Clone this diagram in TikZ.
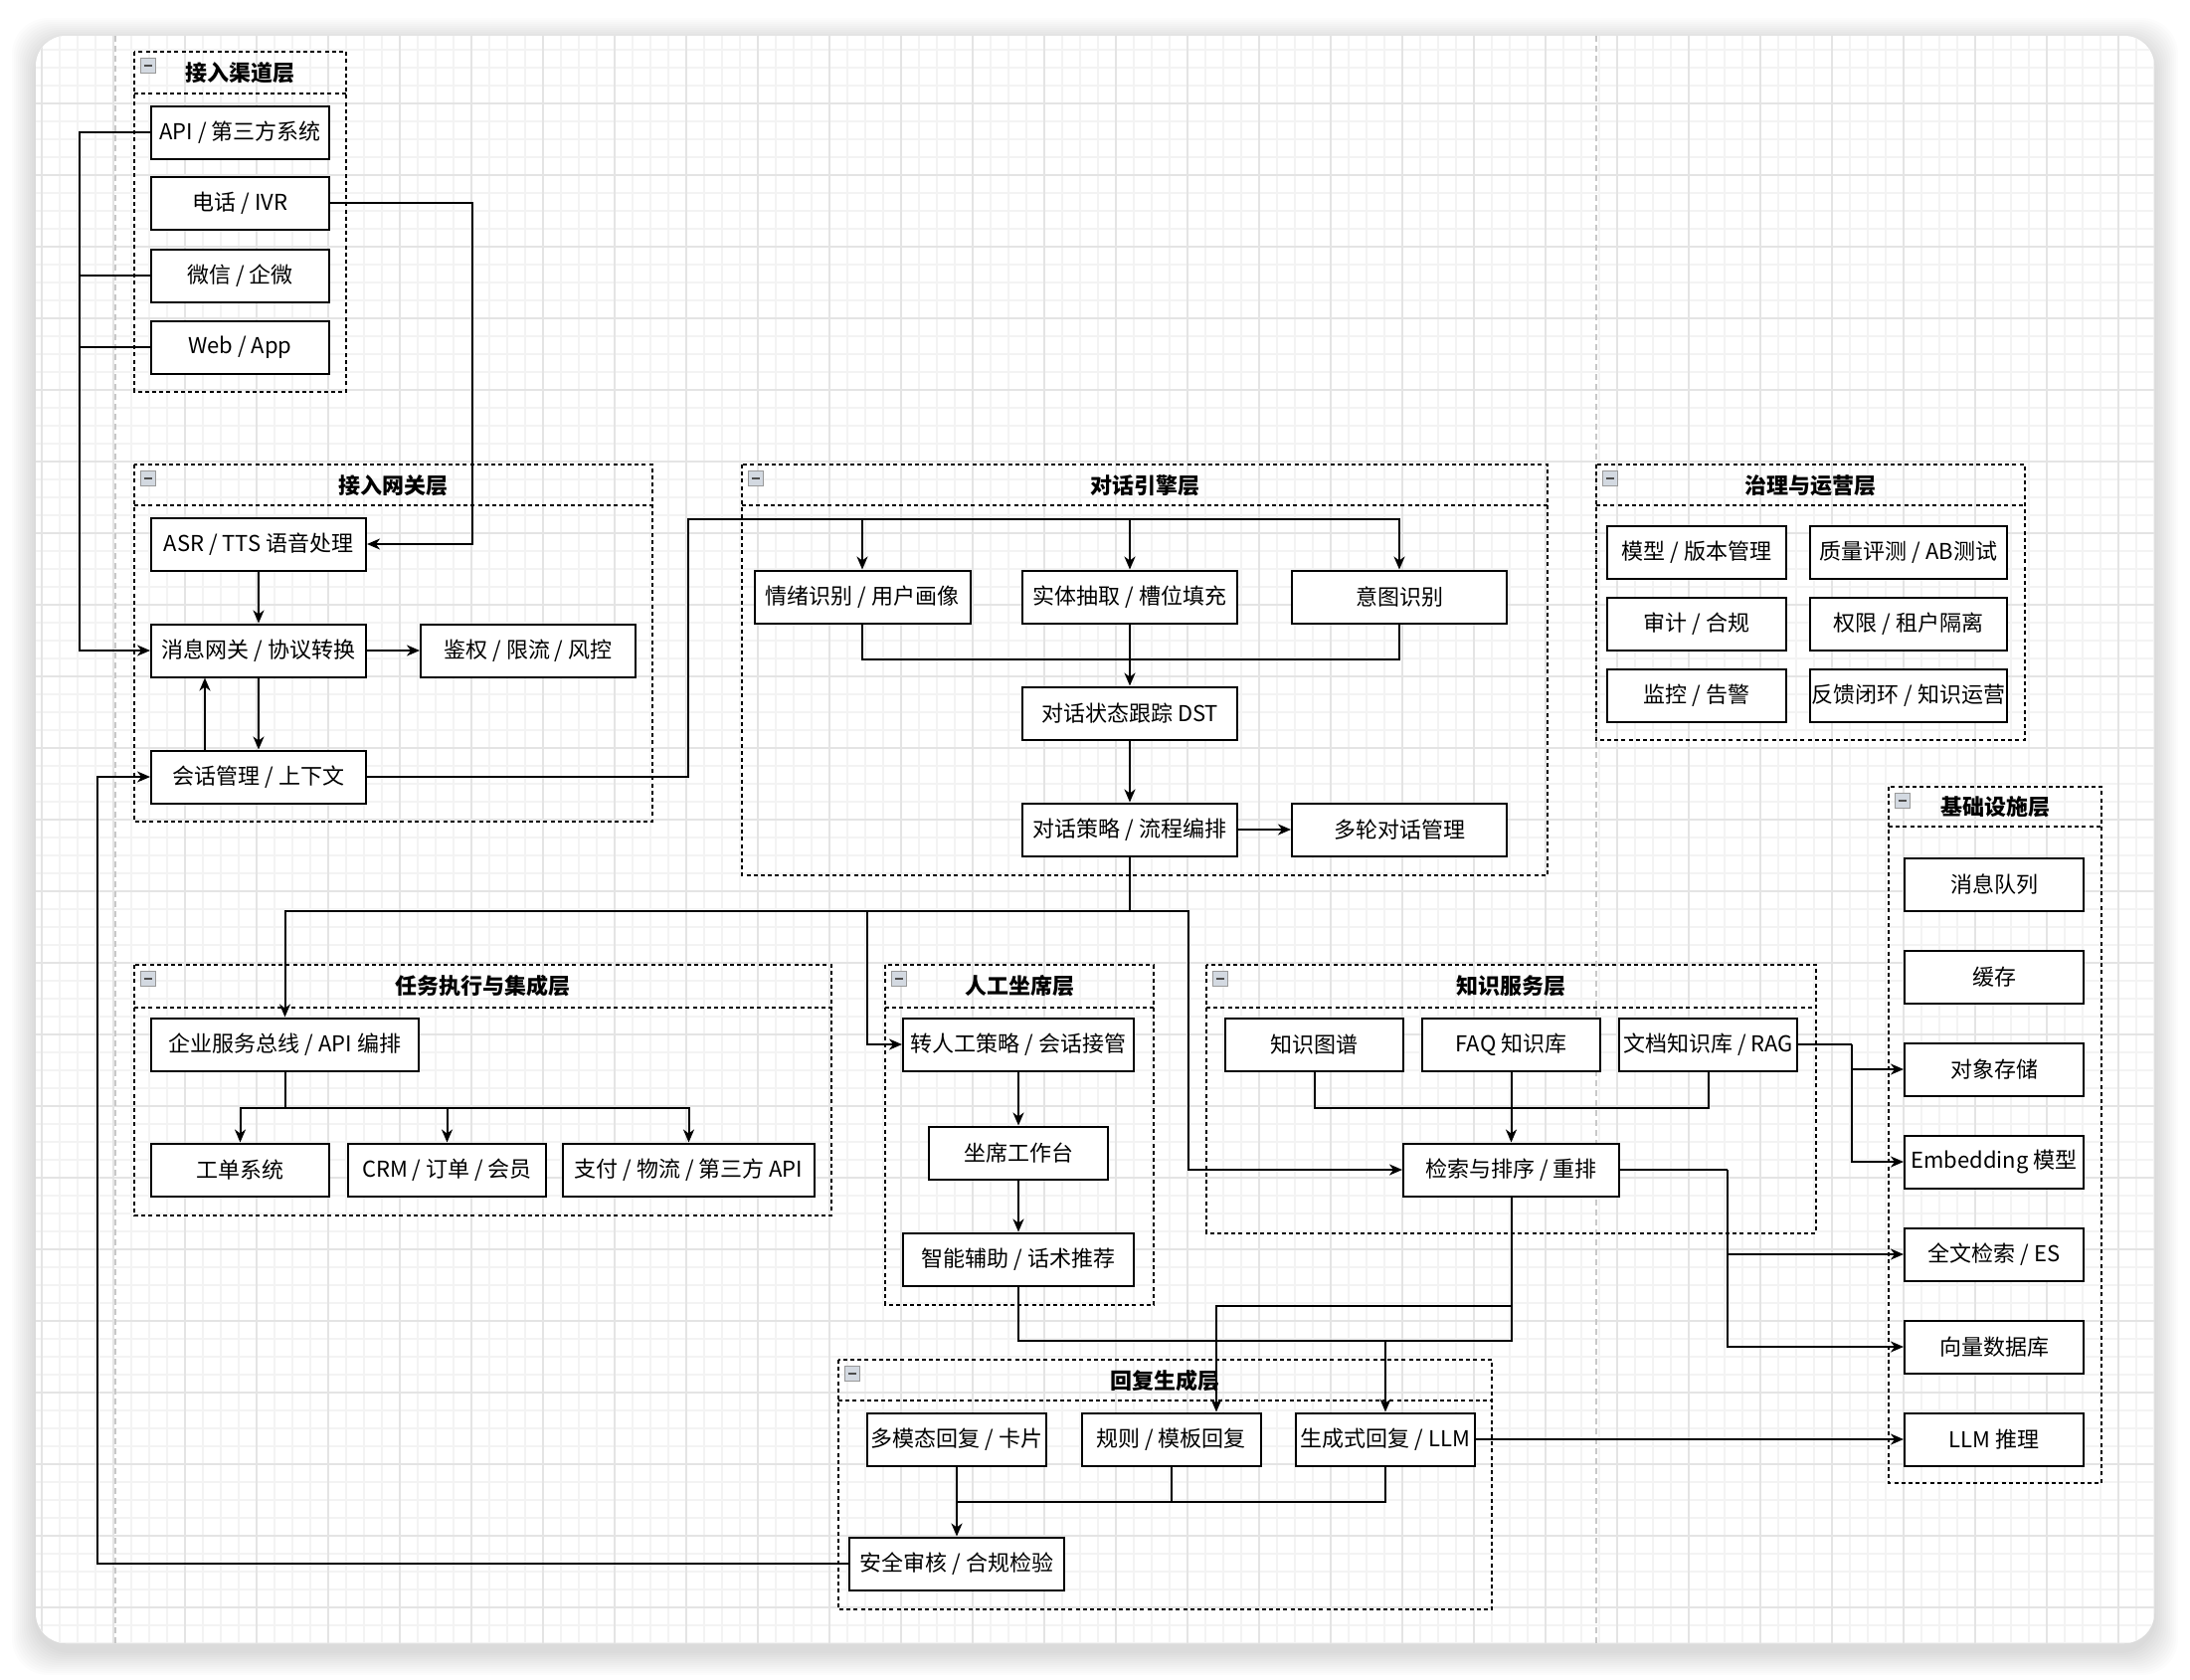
\documentclass[tikz,border=0pt]{standalone}
\usepackage{fontspec}
\setmainfont{Noto Sans CJK SC}
\usetikzlibrary{shapes,arrows,arrows.meta}
\usetikzlibrary{calc}
\usetikzlibrary{positioning}
\definecolor{gridminor}{HTML}{F3F3F3}
\definecolor{gridmajor}{HTML}{E4E4E4}
\definecolor{pageline}{HTML}{C8C8C8}
\definecolor{iconfill}{HTML}{D3D9E1}
\tikzstyle{block} = [draw, line width=1pt, fill=white, rectangle,
    minimum height=26.5pt, minimum width=89.5pt, inner sep=1pt,
    font=\fontsize{11}{12}\selectfont]
\tikzstyle{layerbox} = [draw, line width=0.9pt, dash pattern=on 2pt off 1.6pt]
\tikzstyle{layertitle} = [inner sep=0pt, font=\fontsize{11}{12}\selectfont\bfseries]
\tikzstyle{icon} = [draw=gray!80, fill=iconfill, rectangle, minimum size=7.5pt, inner sep=0pt,
    path picture={\draw[line width=1.2pt, black!70]
      ([xshift=-2.2pt]path picture bounding box.center) -- ([xshift=2.2pt]path picture bounding box.center);}]
\tikzstyle{wire} = [line width=1pt]

\begin{document}
\begin{tikzpicture}[x=0.5pt, y=-0.5pt, >={Stealth[length=6.5pt, width=5.5pt, inset=2pt]}]
  \useasboundingbox (0,0) rectangle (2202,1688);
  \fill[white] (0,0) rectangle (2202,1688);
  % card with soft shadow and grid
  \foreach \s in {1,...,12}
    \fill[black, opacity=0.012, rounded corners=18pt] (36-2*\s,36-2*\s+6) rectangle (2166+2*\s,1652+2*\s+8);
  \fill[white, rounded corners=15pt] (36,36) rectangle (2166,1652);
  \begin{scope}
    \clip[rounded corners=15pt] (36,36) rectangle (2166,1652);
    \foreach \gx in {42,60,...,2166} \draw[gridminor, line width=0.7pt] (\gx,36) -- (\gx,1652);
    \foreach \gy in {50,68,...,1652} \draw[gridminor, line width=0.7pt] (36,\gy) -- (2166,\gy);
    \foreach \gx in {42,114,...,2166} \draw[gridmajor, line width=0.7pt] (\gx,36) -- (\gx,1652);
    \foreach \gy in {104,176,...,1652} \draw[gridmajor, line width=0.7pt] (36,\gy) -- (2166,\gy);
  \end{scope}
  \draw[pageline, line width=0.6pt, dash pattern=on 3pt off 2pt] (116,36) -- (116,1652);
  \draw[pageline, line width=0.6pt, dash pattern=on 3pt off 2pt] (1605,36) -- (1605,1652);

  % layers
  \draw[layerbox] (135,52) rectangle (348,394);
  \draw[layerbox] (135,94) -- (348,94);
  \node[icon] (iconCh) at (149,66) {};
  \node[layertitle] (titleCh) at (241.5,73) {接入渠道层};

  \draw[layerbox] (135,467) rectangle (656,826);
  \draw[layerbox] (135,508) -- (656,508);
  \node[icon] (iconGw) at (149,481) {};
  \node[layertitle] (titleGw) at (395.5,488) {接入网关层};

  \draw[layerbox] (746,467) rectangle (1556,880);
  \draw[layerbox] (746,508) -- (1556,508);
  \node[icon] (iconDe) at (760,481) {};
  \node[layertitle] (titleDe) at (1151,488) {对话引擎层};

  \draw[layerbox] (1605,467) rectangle (2036,744);
  \draw[layerbox] (1605,508) -- (2036,508);
  \node[icon] (iconGov) at (1619,481) {};
  \node[layertitle] (titleGov) at (1820.5,488) {治理与运营层};

  \draw[layerbox] (135,970) rectangle (836,1222);
  \draw[layerbox] (135,1013) -- (836,1013);
  \node[icon] (iconTk) at (149,984) {};
  \node[layertitle] (titleTk) at (485.5,991) {任务执行与集成层};

  \draw[layerbox] (890,970) rectangle (1160,1312);
  \draw[layerbox] (890,1013) -- (1160,1013);
  \node[icon] (iconAg) at (904,984) {};
  \node[layertitle] (titleAg) at (1025,991) {人工坐席层};

  \draw[layerbox] (1213,970) rectangle (1826,1240);
  \draw[layerbox] (1213,1013) -- (1826,1013);
  \node[icon] (iconKg) at (1227,984) {};
  \node[layertitle] (titleKg) at (1519.5,991) {知识服务层};

  \draw[layerbox] (843,1367) rectangle (1500,1618);
  \draw[layerbox] (843,1408) -- (1500,1408);
  \node[icon] (iconRp) at (857,1381) {};
  \node[layertitle] (titleRp) at (1171.5,1388) {回复生成层};

  \draw[layerbox] (1899,791) rectangle (2113,1491);
  \draw[layerbox] (1899,831) -- (2113,831);
  \node[icon] (iconIn) at (1913,805) {};
  \node[layertitle] (titleIn) at (2006,811) {基础设施层};

  % boxes
  \node[block] (chApi) at (241.5,133) {API / 第三方系统};
  \node[block] (chTel) at (241.5,204) {电话 / IVR};
  \node[block] (chWx) at (241.5,277) {微信 / 企微};
  \node[block] (chWeb) at (241.5,349) {Web / App};

  \node[block, minimum width=108pt] (gwAsr) at (260,547) {ASR / TTS 语音处理};
  \node[block, minimum width=108pt] (gwMsg) at (260,654) {消息网关 / 协议转换};
  \node[block, minimum width=108pt] (gwAuth) at (531,654) {鉴权 / 限流 / 风控};
  \node[block, minimum width=108pt] (gwSess) at (260,781) {会话管理 / 上下文};

  \node[block, minimum width=108.5pt] (deEmo) at (867,600) {情绪识别 / 用户画像};
  \node[block, minimum width=108pt] (deEnt) at (1136,600) {实体抽取 / 槽位填充};
  \node[block, minimum width=108pt] (deInt) at (1407,600) {意图识别};
  \node[block, minimum width=108pt] (deDst) at (1136,717) {对话状态跟踪 DST};
  \node[block, minimum width=108pt] (dePol) at (1136,834) {对话策略 / 流程编排};
  \node[block, minimum width=108pt] (deMulti) at (1407,834) {多轮对话管理};

  \node[block, minimum width=90pt] (govModel) at (1706,555) {模型 / 版本管理};
  \node[block, minimum width=99pt] (govQa) at (1919,555) {质量评测 / AB测试};
  \node[block, minimum width=90pt] (govAudit) at (1706,627) {审计 / 合规};
  \node[block, minimum width=99pt] (govAuth) at (1919,627) {权限 / 租户隔离};
  \node[block, minimum width=90pt] (govMon) at (1706,699) {监控 / 告警};
  \node[block, minimum width=99pt] (govLoop) at (1919,699) {反馈闭环 / 知识运营};

  \node[block, minimum width=134.5pt] (tkEsb) at (286.5,1050) {企业服务总线 / API 编排};
  \node[block] (tkTicket) at (241.5,1176) {工单系统};
  \node[block, minimum width=99.5pt] (tkCrm) at (449.5,1176) {CRM / 订单 / 会员};
  \node[block, minimum width=126.5pt] (tkPay) at (692.5,1176) {支付 / 物流 / 第三方 API};

  \node[block, minimum width=116pt] (agHandoff) at (1024,1050) {转人工策略 / 会话接管};
  \node[block, minimum width=90pt] (agDesk) at (1024,1159) {坐席工作台};
  \node[block, minimum width=116pt] (agAssist) at (1024,1266) {智能辅助 / 话术推荐};

  \node[block] (kgGraph) at (1321.5,1050) {知识图谱};
  \node[block] (kgFaq) at (1519.5,1050) {FAQ 知识库};
  \node[block] (kgDoc) at (1717.5,1050) {文档知识库 / RAG};
  \node[block, minimum width=108.5pt] (kgSearch) at (1519.5,1176) {检索与排序 / 重排};

  \node[block, minimum width=90pt] (rpMulti) at (962,1447) {多模态回复 / 卡片};
  \node[block, minimum width=90pt] (rpRule) at (1177.5,1447) {规则 / 模板回复};
  \node[block, minimum width=90pt] (rpGen) at (1393,1447) {生成式回复 / LLM};
  \node[block, minimum width=108pt] (rpSafe) at (962,1572) {安全审核 / 合规检验};

  \node[block, minimum width=90pt] (inMq) at (2005,889) {消息队列};
  \node[block, minimum width=90pt] (inCache) at (2005,982) {缓存};
  \node[block, minimum width=90pt] (inObj) at (2005,1075) {对象存储};
  \node[block, minimum width=90pt] (inEmb) at (2005,1168) {Embedding 模型};
  \node[block, minimum width=90pt] (inFts) at (2005,1261) {全文检索 / ES};
  \node[block, minimum width=90pt] (inVec) at (2005,1354) {向量数据库};
  \node[block, minimum width=90pt] (inLlm) at (2005,1447) {LLM 推理};

  % connectors
  \coordinate (chBus) at (80,654);
  \draw[wire,->] (chApi.west) -| (chBus) -- (gwMsg.west);
  \draw[wire] (chWx.west) -- (chWx.west -| chBus);
  \draw[wire] (chWeb.west) -- (chWeb.west -| chBus);
  \coordinate (telBend) at (475,547);
  \draw[wire,->] (chTel.east) -| (telBend) -- (gwAsr.east);

  \draw[wire,->] (gwAsr) -- (gwMsg);
  \draw[wire,->] (gwMsg) -- (gwSess);
  \draw[wire,->] ([xshift=-27pt]gwSess.north) -- ([xshift=-27pt]gwMsg.south);
  \draw[wire,->] (gwMsg) -- (gwAuth);

  \coordinate (nluBus) at (692,522);
  \draw[wire,->] (gwSess.east) -| (nluBus) -| (deInt.north);
  \draw[wire,->] (deEmo.north |- nluBus) -- (deEmo.north);
  \draw[wire,->] (deEnt.north |- nluBus) -- (deEnt.north);
  \coordinate (nluMrg) at (1136,663);
  \draw[wire] (deEmo.south) |- (nluMrg) -| (deInt.south);
  \draw[wire,->] (deEnt) -- (deDst);
  \draw[wire,->] (deDst) -- (dePol);
  \draw[wire,->] (dePol) -- (deMulti);

  \coordinate (polBus) at (1136,916);
  \coordinate (hoBend) at (872,916);
  \coordinate (kgBend) at (1195,916);
  \draw[wire,->] (dePol.south) -- (polBus) -| (tkEsb.north);
  \draw[wire,->] (hoBend) |- (agHandoff.west);
  \draw[wire,->] (polBus) -- (kgBend) |- (kgSearch.west);

  \coordinate (esbBus) at (286.5,1114);
  \draw[wire,->] (tkEsb.south) -- (esbBus) -| (tkTicket.north);
  \draw[wire,->] (esbBus) -| (tkCrm.north);
  \draw[wire,->] (esbBus) -| (tkPay.north);

  \draw[wire,->] (agHandoff) -- (agDesk);
  \draw[wire,->] (agDesk) -- (agAssist);

  \coordinate (kgMrg) at (1519.5,1114);
  \draw[wire] (kgGraph.south) |- (kgMrg) -| (kgDoc.south);
  \draw[wire,->] (kgFaq) -- (kgSearch);

  \coordinate (docBend) at (1862,1050);
  \draw[wire] (kgDoc.east) -- (docBend);
  \draw[wire,->] (docBend) |- (inObj.west);
  \draw[wire,->] (docBend) |- (inEmb.west);
  \coordinate (srchBend) at (1737,1176);
  \draw[wire] (kgSearch.east) -- (srchBend);
  \draw[wire,->] (srchBend) |- (inFts.west);
  \draw[wire,->] (srchBend) |- (inVec.west);

  \coordinate (ruleBus) at (1519.5,1313);
  \coordinate (genBus) at (1519.5,1348);
  \draw[wire,->] (kgSearch.south) -- (genBus) -| (rpGen.north);
  \draw[wire,->] (ruleBus) -| ([xshift=22.75pt]rpRule.north);
  \draw[wire] (agAssist.south) |- (genBus);

  \coordinate (rpMrg) at (962,1510);
  \draw[wire,->] (rpMulti) -- (rpSafe);
  \draw[wire] (rpRule.south) |- (rpMrg);
  \draw[wire] (rpGen.south) |- (rpMrg);
  \draw[wire,->] (rpGen) -- (inLlm);

  \coordinate (backBend) at (98,781);
  \draw[wire,->] (rpSafe.west) -| (backBend) -- (gwSess.west);
\end{tikzpicture}
\end{document}
